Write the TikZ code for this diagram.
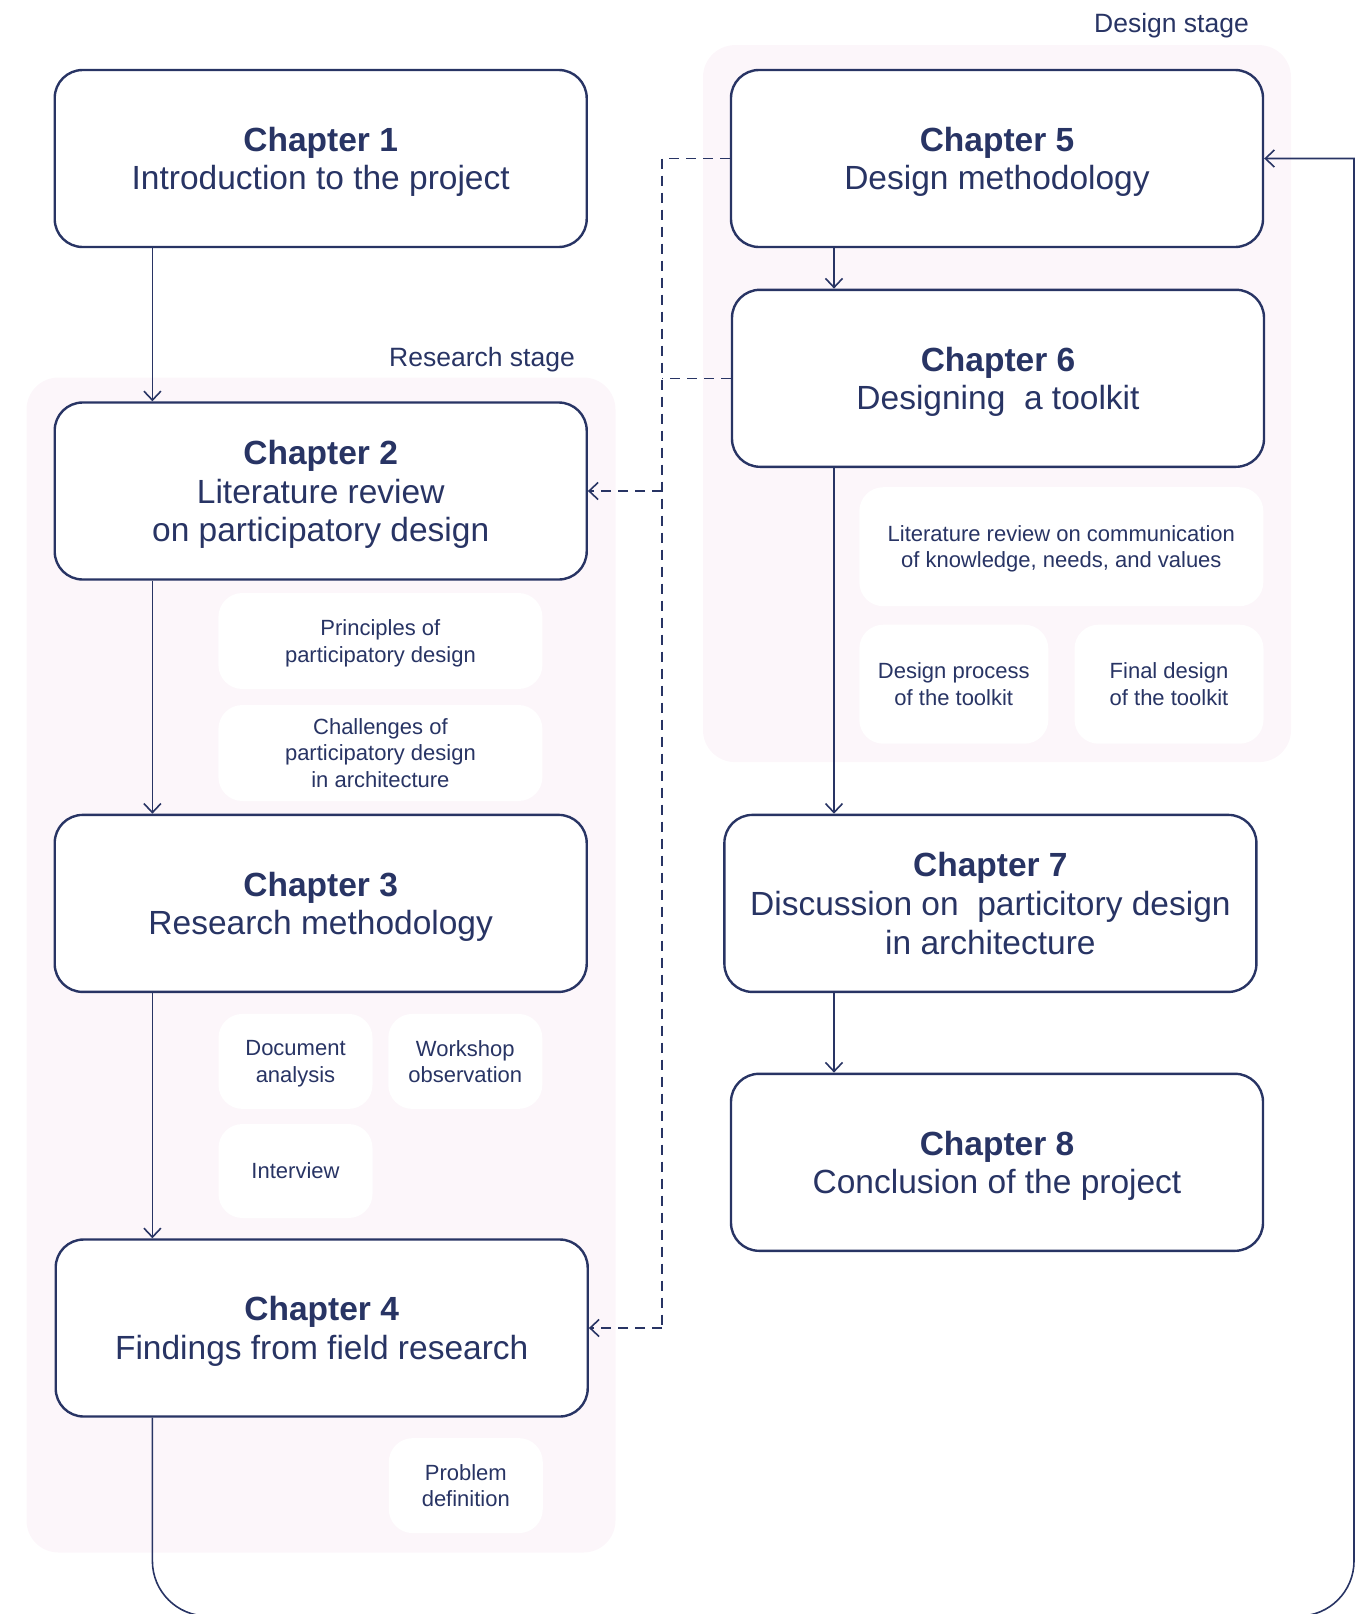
\documentclass[tikz,border=0pt]{standalone}
\usepackage{fontspec}
\setmainfont{Liberation Sans}
\usetikzlibrary{arrows.meta}
\definecolor{navy}{RGB}{40,52,100}
\definecolor{stagebg}{RGB}{252,246,250}
\begin{document}
\begin{tikzpicture}[x=1pt,y=-1pt,
  chapter/.style={draw=navy, line width=2.4pt, fill=white, rounded corners=28pt,
    minimum width=532pt, minimum height=177pt, align=center, text=navy,
    font=\fontsize{33.5}{38.6}\selectfont, inner sep=0pt, text depth=0pt},
  topic/.style={fill=white, rounded corners=24pt, align=center, text=navy,
    font=\fontsize{22}{26.5}\selectfont, inner sep=0pt, text depth=0pt},
  stagebox/.style={fill=stagebg, rounded corners=32pt, inner sep=0pt},
  stagelabel/.style={text=navy, font=\fontsize{26.5}{30}\selectfont, inner sep=0pt},
  barb/.style={-{Straight Barb[length=9pt,width=17pt,line width=1.6pt]}},
  flow/.style={draw=navy, line width=1.6pt, barb},
  link/.style={draw=navy, line width=1.6pt, dash pattern=on 10pt off 7pt},
]
\useasboundingbox (0,0) rectangle (1363,1614);

% stage areas
\node[stagebox, minimum width=589pt, minimum height=1175pt] (research) at (321,965) {};
\node[stagebox, minimum width=588pt, minimum height=717pt] (design) at (997,403.6) {};
\node[stagelabel, anchor=east] (researchlbl) at (575,360) {Research stage};
\node[stagelabel, anchor=east] (designlbl) at (1249,25.5) {Design stage};

% chapters
\node[chapter] (ch1) at (320.7,158.5) {\textbf{Chapter 1}\\Introduction to the project};
\node[chapter] (ch2) at (320.7,491) {\textbf{Chapter 2}\\Literature review\\on participatory design};
\node[chapter] (ch3) at (320.7,903.4) {\textbf{Chapter 3}\\Research methodology};
\node[chapter] (ch4) at (321.7,1328) {\textbf{Chapter 4}\\Findings from field research};
\node[chapter] (ch5) at (997,158.5) {\textbf{Chapter 5}\\Design methodology};
\node[chapter] (ch6) at (998,378.3) {\textbf{Chapter 6}\\Designing\ \ a toolkit};
\node[chapter] (ch7) at (990.4,903.4) {\textbf{Chapter 7}\\Discussion on\ \ particitory design\\in architecture};
\node[chapter] (ch8) at (997,1162.3) {\textbf{Chapter 8}\\Conclusion of the project};

% topics
\node[topic, minimum width=324pt, minimum height=96pt] (principles) at (380.4,641) {Principles of\\participatory design};
\node[topic, minimum width=324pt, minimum height=96pt] (challenges) at (380.4,753) {Challenges of\\participatory design\\in architecture};
\node[topic, minimum width=154pt, minimum height=95pt] (docs) at (295.5,1061.4) {Document\\analysis};
\node[topic, minimum width=154pt, minimum height=95pt] (workshop) at (465.3,1061.4) {Workshop\\observation};
\node[topic, minimum width=154pt, minimum height=94pt] (interview) at (295.5,1171) {Interview};
\node[topic, minimum width=154pt, minimum height=95pt] (problem) at (465.8,1485.6) {Problem\\definition};
\node[topic, minimum width=404pt, minimum height=119pt] (litcomm) at (1061.3,546.7) {Literature review on communication\\of knowledge, needs, and values};
\node[topic, minimum width=189pt, minimum height=119pt] (process) at (953.8,684.2) {Design process\\of the toolkit};
\node[topic, minimum width=189pt, minimum height=119pt] (final) at (1169,684.2) {Final design\\of the toolkit};

% guide coordinates for the vertical runs
\coordinate (lx) at (152.4,0);
\coordinate (mx) at (834,0);
\coordinate (dx) at (662,0);
\coordinate (loop) at (1354,1616);

% main flow
\draw[flow] (ch1.south -| lx) -- (ch2.north -| lx);
\draw[flow] (ch2.south -| lx) -- (ch3.north -| lx);
\draw[flow] (ch3.south -| lx) -- (ch4.north -| lx);
\draw[flow] (ch5.south -| mx) -- (ch6.north -| mx);
\draw[flow] (ch6.south -| mx) -- (ch7.north -| mx);
\draw[flow] (ch7.south -| mx) -- (ch8.north -| mx);
\draw[flow] (ch4.south -| lx) [rounded corners=55pt] -- (lx |- loop) -- (loop)
  [sharp corners] -- (loop |- ch5.east) -- (ch5.east);

% feedback links
\draw[link] (ch5.west) -| (dx |- ch4.east);
\draw[link] (ch6.west) -- (dx |- ch6.west);
\draw[link, barb] (dx |- ch2.east) -- (ch2.east);
\draw[link, barb] (dx |- ch4.east) -- (ch4.east);
\end{tikzpicture}
\end{document}
